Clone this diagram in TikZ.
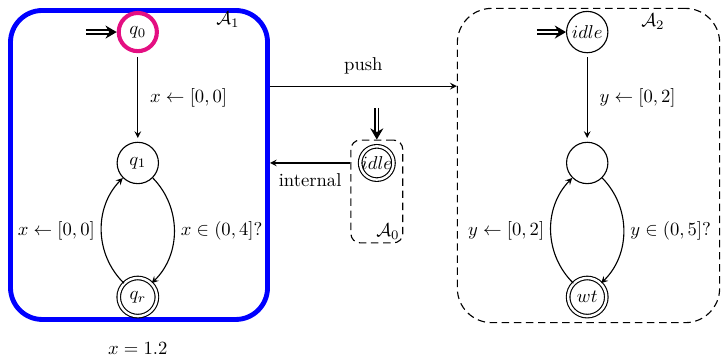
\documentclass[tikz,border=0pt]{standalone}
\usepackage{amsmath, amssymb}
\usepackage{xcolor}
\usepackage{tikz}
\usetikzlibrary{calc, arrows.meta, positioning}
\definecolor{qpink}{RGB}{228,15,130}

\begin{document}
\begin{tikzpicture}[
    >=stealth,
    semithick,
    edge_arrow/.style={draw=black, ->},
    init_arrow/.style={draw=black, line width=0.7pt, double, double distance=1.4pt, -{Stealth[length=6pt, width=7pt, inset=2pt]}},
    % States
    state_node/.style={circle, draw=black, minimum size=0.78cm, inner sep=1pt},
    final_node/.style={circle, draw=black, double, double distance=1.3pt, minimum size=0.72cm, inner sep=0.5pt},
    start_node/.style={circle, draw=qpink, line width=2.2pt, minimum size=0.72cm, inner sep=1pt},
    % Components
    blue_box/.style={rectangle, rounded corners=0.6cm, draw=blue, line width=2.6pt},
    dash_box/.style={rectangle, rounded corners=0.65cm, draw=black, dash pattern=on 4pt off 2.5pt},
    small_box/.style={rectangle, rounded corners=5pt, draw=black, dash pattern=on 4pt off 2.5pt}
]
    \useasboundingbox (0,0) rectangle (13.604,6.755);

    % =========================================================================
    % A1
    % =========================================================================
    \node [blue_box, minimum width=4.85cm, minimum height=5.83cm] (boxA1) at (2.623, 3.642) {};
    \node (labA1) at (4.30, 6.38) {$\mathcal{A}_1$};

    \node [start_node] (q0) at (2.60, 6.15) {$q_0$};
    \node [state_node] (q1) at (2.60, 3.68) {$q_1$};
    \node [final_node] (qr) at (2.60, 1.15) {$q_r$};
    \coordinate (q0in) at (1.62, 6.15);

    \draw [init_arrow] (q0in) -- (q0.west);
    \draw [edge_arrow, shorten <=2pt, shorten >=2pt] (q0) -- node[right=3pt] {$x \leftarrow [0,0]$} (q1);
    \draw [edge_arrow] (q1) to[bend left=45] node[right] {$x \in (0,4]?$} (qr);
    \draw [edge_arrow] (qr) to[bend left=45] node[left] {$x \leftarrow [0,0]$} (q1);

    \node (clk) at (2.60, 0.17) {$x = 1.2$};

    % =========================================================================
    % A0
    % =========================================================================
    \node [small_box, minimum width=0.98cm, minimum height=1.94cm] (boxA0) at (7.11, 3.142) {};
    \node [final_node, minimum size=0.6cm, inner sep=0pt] (idle0) at (7.11, 3.68) {$idle$};
    \node (labA0) at (7.32, 2.38) {$\mathcal{A}_0$};
    \coordinate (idle0in) at (7.11, 4.72);

    \draw [init_arrow] (idle0in) -- (boxA0.north);

    % =========================================================================
    % A2
    % =========================================================================
    \node [dash_box, minimum width=4.95cm, minimum height=5.93cm] (boxA2) at (11.104, 3.632) {};
    \node (labA2) at (12.32, 6.34) {$\mathcal{A}_2$};

    \node [state_node, inner sep=0pt] (idle2) at (11.08, 6.15) {$idle$};
    \node [state_node] (s2) at (11.08, 3.68) {};
    \node [final_node] (wt) at (11.08, 1.15) {$wt$};
    \coordinate (idle2in) at (10.13, 6.15);

    \draw [init_arrow] (idle2in) -- (idle2.west);
    \draw [edge_arrow, shorten <=2pt, shorten >=2pt] (idle2) -- node[right=3pt] {$y \leftarrow [0,2]$} (s2);
    \draw [edge_arrow] (s2) to[bend left=45] node[right] {$y \in (0,5]?$} (wt);
    \draw [edge_arrow] (wt) to[bend left=45] node[left] {$y \leftarrow [0,2]$} (s2);

    % =========================================================================
    % CONNECTIONS
    % =========================================================================
    \coordinate (pushlvl) at (0, 5.13);
    \draw [edge_arrow] (boxA1.east |- pushlvl) -- node[above=3pt] {push} (boxA2.west |- pushlvl);
    \draw [edge_arrow] (boxA0.west |- idle0) -- node[below=2pt] {internal} (boxA1.east |- idle0);
\end{tikzpicture}
\end{document}
